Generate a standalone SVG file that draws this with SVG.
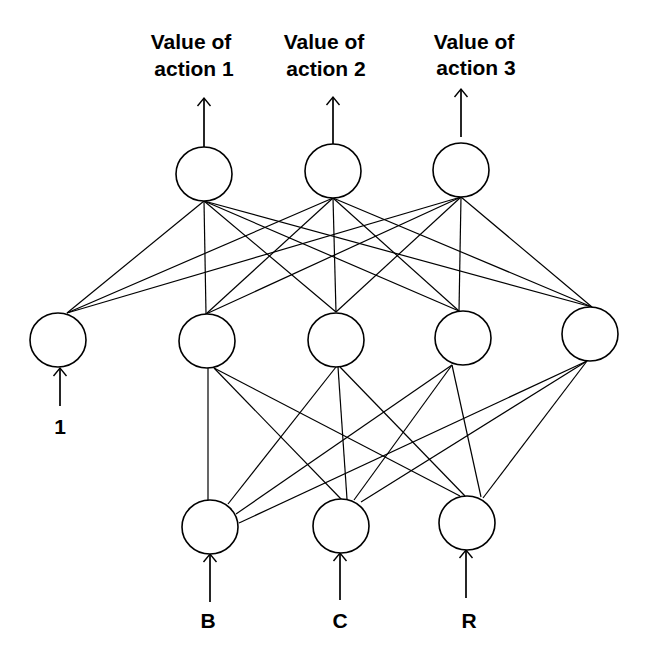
<svg xmlns="http://www.w3.org/2000/svg" width="651" height="666" viewBox="0 0 651 666">
<defs>
<marker id="ah" viewBox="-10 -8 12 16" markerWidth="12" markerHeight="16" refX="0" refY="0" orient="auto" markerUnits="userSpaceOnUse">
<path d="M-8,-6.5 L0,0 L-8,6.5" fill="none" stroke="#000" stroke-width="1.4"/>
</marker>
</defs>
<style>
.n{fill:#fff;stroke:#000;stroke-width:1.6}
.c line{stroke:#000;stroke-width:1.2}
.a{stroke:#000;stroke-width:1.7}
text{font-family:"Liberation Sans",Arial,sans-serif;font-weight:bold;font-size:21px;text-anchor:middle;fill:#000}
</style>
<rect width="651" height="666" fill="#fff"/>
<g class="c" id="connectors">
<line x1="204" y1="201" x2="67" y2="313"/><line x1="204" y1="201" x2="206" y2="314"/><line x1="204" y1="201" x2="336" y2="312"/><line x1="204" y1="201" x2="459" y2="311"/><line x1="204" y1="201" x2="592" y2="307"/>
<line x1="333" y1="198" x2="67" y2="313"/><line x1="333" y1="198" x2="206" y2="314"/><line x1="333" y1="198" x2="336" y2="312"/><line x1="333" y1="198" x2="459" y2="311"/><line x1="333" y1="198" x2="592" y2="307"/>
<line x1="461" y1="197" x2="67" y2="313"/><line x1="461" y1="197" x2="206" y2="314"/><line x1="461" y1="197" x2="336" y2="312"/><line x1="461" y1="197" x2="459" y2="311"/><line x1="461" y1="197" x2="592" y2="307"/>
<line x1="208" y1="368" x2="208" y2="500"/><line x1="214" y1="368" x2="342" y2="500"/><line x1="214" y1="368" x2="460" y2="496"/>
<line x1="336" y1="367" x2="228" y2="504"/><line x1="338" y1="367" x2="347" y2="499"/><line x1="340" y1="367" x2="465" y2="496"/>
<line x1="452" y1="365" x2="236" y2="514"/><line x1="452" y1="365" x2="354" y2="500"/><line x1="452" y1="365" x2="481" y2="497"/>
<line x1="587" y1="361" x2="239" y2="523"/><line x1="587" y1="361" x2="361" y2="502"/><line x1="587" y1="361" x2="483" y2="498"/>
</g>
<g id="io-arrows">
<line class="a" x1="204" y1="147" x2="204" y2="98" marker-end="url(#ah)"/>
<line class="a" x1="333" y1="144" x2="333" y2="97" marker-end="url(#ah)"/>
<line class="a" x1="461" y1="137" x2="461" y2="89" marker-end="url(#ah)"/>
<line class="a" x1="60" y1="406" x2="60" y2="368" marker-end="url(#ah)"/>
<line class="a" x1="210" y1="602" x2="210" y2="554" marker-end="url(#ah)"/>
<line class="a" x1="340" y1="600" x2="340" y2="553" marker-end="url(#ah)"/>
<line class="a" x1="466" y1="598" x2="466" y2="550" marker-end="url(#ah)"/>
</g>
<g id="top1"><ellipse class="n" cx="204" cy="174" rx="28" ry="27"/></g>
<g id="top2"><ellipse class="n" cx="333" cy="171" rx="28" ry="27"/></g>
<g id="top3"><ellipse class="n" cx="461" cy="170" rx="28" ry="27"/></g>
<g id="mid1"><ellipse class="n" cx="58" cy="340" rx="28" ry="27"/></g>
<g id="mid2"><ellipse class="n" cx="207" cy="341" rx="28" ry="27"/></g>
<g id="mid3"><ellipse class="n" cx="336" cy="340" rx="28" ry="27"/></g>
<g id="mid4"><ellipse class="n" cx="463" cy="338" rx="28" ry="27"/></g>
<g id="mid5"><ellipse class="n" cx="590" cy="334" rx="28" ry="27"/></g>
<g id="inB"><ellipse class="n" cx="210" cy="527" rx="28" ry="27"/></g>
<g id="inC"><ellipse class="n" cx="341" cy="526" rx="28" ry="27"/></g>
<g id="inR"><ellipse class="n" cx="467" cy="523" rx="28" ry="27"/></g>
<g id="labels">
<text x="191" y="49">Value of</text><text x="194" y="76">action 1</text>
<text x="324" y="49">Value of</text><text x="326" y="76">action 2</text>
<text x="474" y="49">Value of</text><text x="476" y="75">action 3</text>
<text x="60" y="434" font-size="19">1</text>
<text x="208" y="628" font-size="25">B</text>
<text x="340" y="628" font-size="25">C</text>
<text x="469" y="628" font-size="25">R</text>
</g>
</svg>
